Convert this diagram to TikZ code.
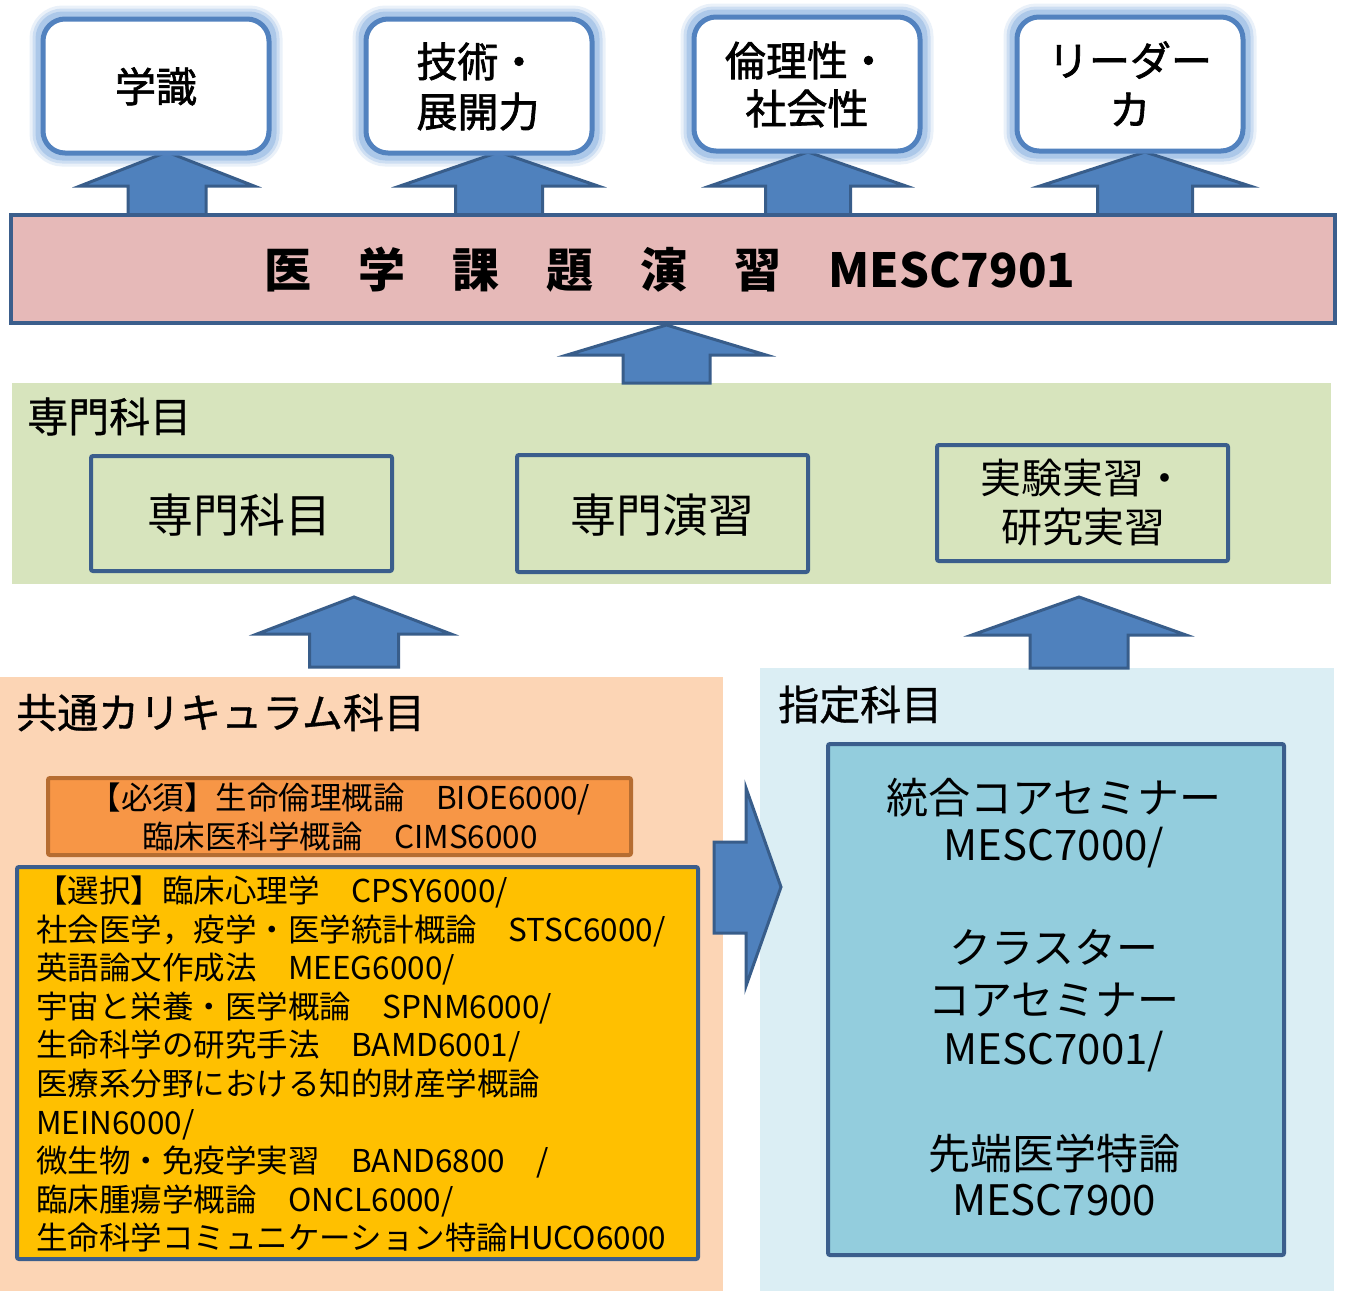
\documentclass[tikz,border=0pt]{standalone}
\usepackage{fontspec}
\setmainfont{Noto Sans CJK JP}
\newfontfamily\medfont[FakeBold=1.6]{Noto Sans CJK JP}
\newfontfamily\lightbold[FakeBold=0.8]{Noto Sans CJK JP}
\usetikzlibrary{backgrounds}
\definecolor{arrowfill}{HTML}{4F81BD}
\definecolor{arrowline}{HTML}{385D8A}
\definecolor{navy}{HTML}{3B5E8C}
\definecolor{topline}{HTML}{5282BF}
\definecolor{glowblue}{HTML}{8DB3E2}
\definecolor{pinkbar}{HTML}{E6B9B8}
\definecolor{greenbg}{HTML}{D7E4BD}
\definecolor{orangebg}{HTML}{FCD5B5}
\definecolor{reqfill}{HTML}{F79646}
\definecolor{reqline}{HTML}{B66D31}
\definecolor{selfill}{HTML}{FFC000}
\definecolor{bluebg}{HTML}{DBEEF4}
\definecolor{bluebox}{HTML}{93CDDD}
\newcommand\fTop{\medfont\fontsize{41}{49}\selectfont}
\newcommand\fBar{\bfseries\fontsize{47}{56}\selectfont}
\newcommand\fTitle{\lightbold\fontsize{41}{49}\selectfont}
\newcommand\fBig{\fontsize{46}{54}\selectfont}
\newcommand\fMid{\fontsize{41}{49}\selectfont}
\newcommand\fList{\fontsize{31.5}{38.5}\selectfont}
\newcommand\fBlue{\fontsize{42}{50}\selectfont}
\newcommand\uparr[6]{%
  \draw[blockarrow] (#1-#6,#4) -- (#1-#6,#3) -- (#1-#5,#3) -- (#1,#2) -- (#1+#5,#3) -- (#1+#6,#3) -- (#1+#6,#4) -- cycle;}
\begin{document}
\begin{tikzpicture}[x=1pt,y=-1pt,
  region/.style={rectangle, inner sep=0pt, draw=none},
  ibox/.style={rectangle, inner sep=0pt, draw=navy, line width=4pt, rounded corners=2pt},
  topbox/.style={rectangle, rounded corners=22pt, inner sep=0pt, draw=topline, line width=5pt, fill=white, minimum width=226pt, minimum height=134pt},
  blockarrow/.style={fill=arrowfill, draw=arrowline, line width=3pt, line join=miter},
  txt/.style={inner sep=0pt, anchor=base},
  ltxt/.style={inner sep=0pt, anchor=base west}]
\useasboundingbox (0,0) rectangle (1345,1291);

% regions
\node[region, fill=greenbg, minimum width=1319pt, minimum height=201pt] (green) at (671.5,483.5) {};
\node[region, fill=orangebg, minimum width=723pt, minimum height=614pt] (orange) at (361.5,984) {};
\node[region, fill=bluebg, minimum width=574pt, minimum height=623pt] (blue) at (1047,979.5) {};

% arrows from bar to top boxes
\uparr{167}{152}{186}{215}{87}{39}
\uparr{499}{152}{186}{215}{99}{43.5}
\uparr{808}{152}{186}{215}{98}{42.5}
\uparr{1145}{152}{186}{215}{105}{47.5}

% top boxes
\node[topbox] (t1) at (156,86) {};
\node[topbox] (t2) at (479,86) {};
\node[topbox] (t3) at (807,84) {};
\node[topbox] (t4) at (1130,84) {};
\begin{scope}[on background layer]
\fill[white] (0,0) rectangle (1345,1291);
\foreach \n in {t1,t2,t3,t4}{
  \draw[glowblue, line width=22pt, opacity=0.18, rounded corners=22pt] (\n.south west) rectangle (\n.north east);
  \draw[glowblue, line width=16pt, opacity=0.3, rounded corners=22pt] (\n.south west) rectangle (\n.north east);
  \draw[glowblue, line width=10pt, opacity=0.5, rounded corners=22pt] (\n.south west) rectangle (\n.north east);
}
\end{scope}

% main bar
\node[rectangle, inner sep=0pt, fill=pinkbar, draw=navy, line width=4pt, minimum width=1324pt, minimum height=108pt] (bar) at (673,269) {};
\uparr{666.5}{325}{355}{383}{99.5}{43.5}

% green inner boxes
\node[ibox, fill=greenbg, minimum width=301pt, minimum height=115pt] (ga) at (241.5,513.5) {};
\node[ibox, fill=greenbg, minimum width=291pt, minimum height=117pt] (gb) at (662.5,513.5) {};
\node[ibox, fill=greenbg, minimum width=291pt, minimum height=116pt] (gc) at (1082.5,503) {};

% arrows into green
\uparr{354}{597}{634}{667}{97}{44.5}
\uparr{1079}{597}{635}{668}{107}{49}

% orange boxes
\node[rectangle, inner sep=0pt, fill=reqfill, draw=reqline, line width=4pt, rounded corners=2pt, minimum width=583pt, minimum height=77pt] (req) at (339.5,816.5) {};
\node[ibox, fill=selfill, minimum width=681pt, minimum height=392pt] (sel) at (357.5,1063) {};

% blue box
\node[ibox, fill=bluebox, minimum width=456pt, minimum height=511pt] (bb) at (1056,999.5) {};

% right arrow
\draw[blockarrow] (714,842) -- (746,842) -- (746,788) -- (781,887) -- (746,986) -- (746,933) -- (714,933) -- cycle;

% texts: top boxes
\node[txt, font=\fTop] (l1) at (156,102) {学識};
\node[txt, font=\fTop] (l2a) at (478,77) {技術・};
\node[txt, font=\fTop] (l2b) at (478,127) {展開力};
\node[txt, font=\fTop] (l3a) at (807,76) {倫理性・};
\node[txt, font=\fTop] (l3b) at (807,124) {社会性};
\node[txt, font=\fTop] (l4a) at (1130,76) {リーダー};
\node[txt, font=\fTop] (l4b) at (1130,125) {カ};

% bar text
\node[txt, font=\fBar] (barlabel) at (670,287.5) {医　学　課　題　演　習　MESC7901};

% green texts
\node[ltxt, font=\fTitle] (gtitle) at (27,432) {専門科目};
\node[txt, font=\fBig] (galabel) at (239,532) {専門科目};
\node[txt, font=\fBig] (gblabel) at (662,532) {専門演習};
\node[txt, font=\fMid] (gclabela) at (1083,493) {実験実習・};
\node[txt, font=\fMid] (gclabelb) at (1083,542) {研究実習};

% orange texts
\node[ltxt, font=\fTitle] (otitle) at (16,728) {共通カリキュラム科目};
\node[txt, font=\fList] (req1) at (340,809.6) {【必須】生命倫理概論　BIOE6000/};
\node[txt, font=\fList] (req2) at (340,848.6) {臨床医科学概論　CIMS6000};
\node[ltxt, font=\fList] (s1) at (36,902.6) {【選択】臨床心理学　CPSY6000/};
\node[ltxt, font=\fList] (s2) at (36,941.2) {社会医学，疫学・医学統計概論　STSC6000/};
\node[ltxt, font=\fList] (s3) at (36,979.7) {英語論文作成法　MEEG6000/};
\node[ltxt, font=\fList] (s4) at (36,1018.3) {宇宙と栄養・医学概論　SPNM6000/};
\node[ltxt, font=\fList] (s5) at (36,1056.8) {生命科学の研究手法　BAMD6001/};
\node[ltxt, font=\fList] (s6) at (36,1095.4) {医療系分野における知的財産学概論};
\node[ltxt, font=\fList] (s7) at (36,1134.0) {MEIN6000/};
\node[ltxt, font=\fList] (s8) at (36,1172.5) {微生物・免疫学実習　BAND6800　/};
\node[ltxt, font=\fList] (s9) at (36,1211.1) {臨床腫瘍学概論　ONCL6000/};
\node[ltxt, font=\fList] (s10) at (36,1249.6) {生命科学コミュニケーション特論HUCO6000};

% blue texts
\node[ltxt, font=\fTitle] (btitle) at (778,720) {指定科目};
\node[txt, font=\fBlue] (b1) at (1054,813.5) {統合コアセミナー};
\node[txt, font=\fBlue] (b2) at (1054,860.5) {MESC7000/};
\node[txt, font=\fBlue] (b3) at (1054,963.5) {クラスター};
\node[txt, font=\fBlue] (b4) at (1054,1015.5) {コアセミナー};
\node[txt, font=\fBlue] (b5) at (1054,1064.5) {MESC7001/};
\node[txt, font=\fBlue] (b6) at (1054,1169.5) {先端医学特論};
\node[txt, font=\fBlue] (b7) at (1054,1215.5) {MESC7900};
\end{tikzpicture}
\end{document}
